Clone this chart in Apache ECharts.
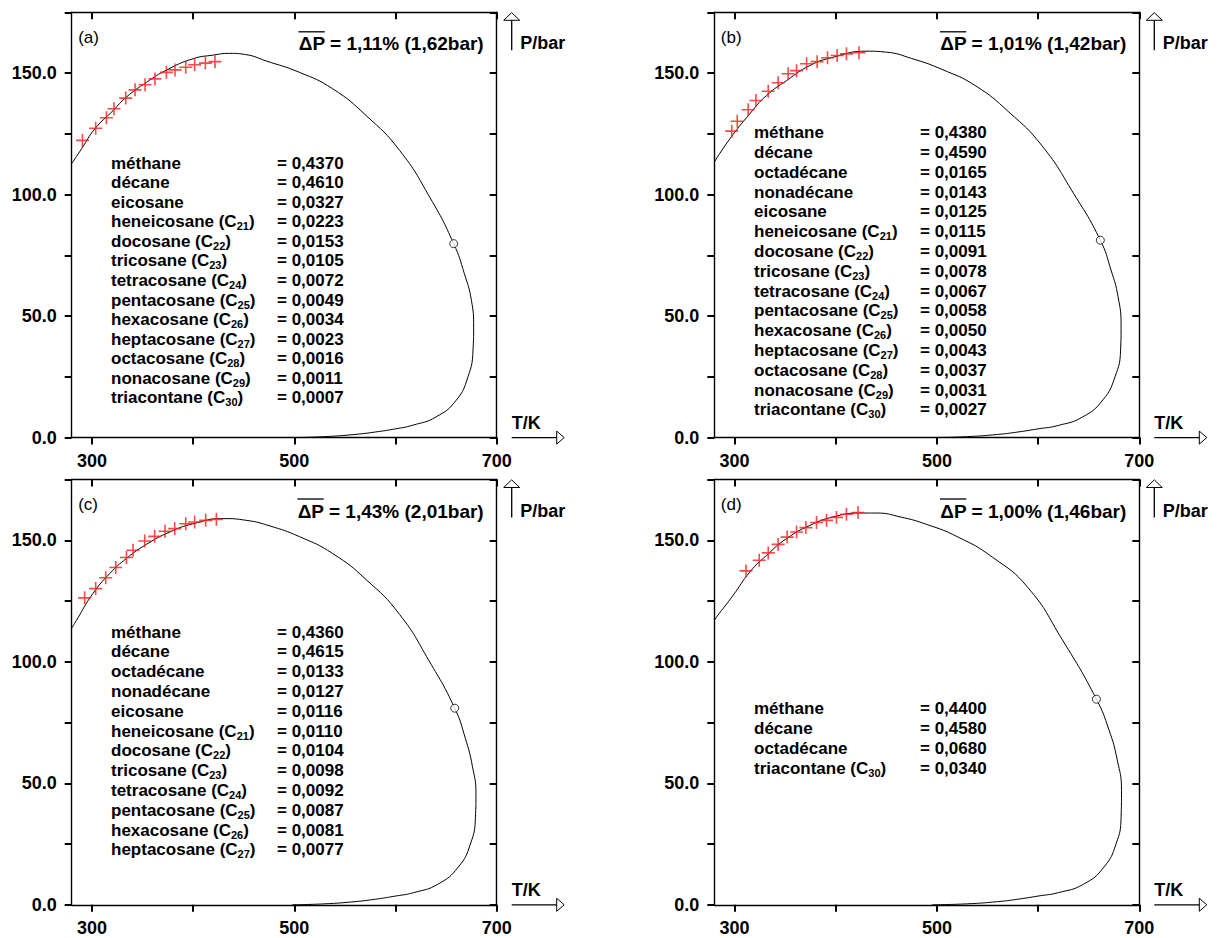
<!DOCTYPE html>
<html><head><meta charset="utf-8">
<script src="https://cdn.jsdelivr.net/npm/echarts@6/dist/echarts.min.js"></script>
<style>html,body{margin:0;padding:0;background:#fff}#chart{width:1218px;height:938px}</style>
</head><body><div id="chart"></div>
<script>
// ---------- data ----------
const xTicks = [300, 400, 500, 600, 700];
const xLabels = [300, 500, 700];
const yTicks = [0, 25, 50, 75, 100, 125, 150, 175];
const yLabels = [0, 50, 100, 150];
const panelTags = ['(a)', '(b)', '(c)', '(d)'];
const dpTexts = ['ΔP = 1,11% (1,62bar)', 'ΔP = 1,01% (1,42bar)', 'ΔP = 1,43% (2,01bar)', 'ΔP = 1,00% (1,46bar)'];

const namesA = ['méthane','décane','eicosane','heneicosane (C21)','docosane (C22)','tricosane (C23)','tetracosane (C24)','pentacosane (C25)','hexacosane (C26)','heptacosane (C27)','octacosane (C28)','nonacosane (C29)','triacontane (C30)'];
const valuesA = ['0,4370','0,4610','0,0327','0,0223','0,0153','0,0105','0,0072','0,0049','0,0034','0,0023','0,0016','0,0011','0,0007'];
const namesB = ['méthane','décane','octadécane','nonadécane','eicosane','heneicosane (C21)','docosane (C22)','tricosane (C23)','tetracosane (C24)','pentacosane (C25)','hexacosane (C26)','heptacosane (C27)','octacosane (C28)','nonacosane (C29)','triacontane (C30)'];
const valuesB = ['0,4380','0,4590','0,0165','0,0143','0,0125','0,0115','0,0091','0,0078','0,0067','0,0058','0,0050','0,0043','0,0037','0,0031','0,0027'];
const namesC = ['méthane','décane','octadécane','nonadécane','eicosane','heneicosane (C21)','docosane (C22)','tricosane (C23)','tetracosane (C24)','pentacosane (C25)','hexacosane (C26)','heptacosane (C27)'];
const valuesC = ['0,4360','0,4615','0,0133','0,0127','0,0116','0,0110','0,0104','0,0098','0,0092','0,0087','0,0081','0,0077'];
const namesD = ['méthane','décane','octadécane','triacontane (C30)'];
const valuesD = ['0,4400','0,4580','0,0680','0,0340'];

// phase envelopes [T/K, P/bar]
const curveA = [[280,112.7],[290,119],[303,127.1],[321,134.6],[334,140.1],[354,146.2],[374,151.3],[400,155.9],[420,157.4],[436,158.1],[452,157.6],[472,155],[505,150.3],[538,143.5],[571,132.5],[604,118.2],[634,98.8],[657.5,79.8],[668,67.5],[675,56.5],[677.2,45.5],[676.6,36],[671.6,25],[660,15.4],[640,8.5],[617,5.1],[600,3.6],[580,2.3],[560,1.3],[530,0.4],[500,0]];
const curveB = [[280,113.4],[295.5,123],[315,133.2],[331.7,140.8],[351.4,146.9],[374.4,153.1],[397.4,156.5],[430,159],[450,158.6],[475,156],[505,151.5],[538,144.8],[571,134],[604,120],[635,100.5],[661.5,81.2],[672,69],[679,58],[682,46],[681.5,36],[676,25],[664,15.5],[644,8.5],[620,5],[600,3.6],[580,2.3],[560,1.3],[530,0.4],[495,0]];
const curveC = [[280,113.8],[284.6,117],[301,128.1],[317.6,136.3],[334,142.5],[353.8,148.3],[377,153.4],[400,156.8],[429.5,158.9],[452.6,158.2],[475,156],[505,151.5],[538,144.5],[571,133.8],[604,119.5],[633,100.5],[658.5,80.9],[669,68.5],[676,57],[679.5,45.5],[679,36],[674,25],[662,15.5],[642,8.5],[618,5],[600,3.6],[580,2.3],[560,1.3],[530,0.4],[498,0]];
const curveD = [[280,117],[282.4,118.5],[298.7,127.4],[315.2,137],[331.7,143.8],[351.4,150.7],[374.4,156.1],[397.4,159.6],[423.7,161.2],[440.2,161.2],[463.8,159.6],[490,156.5],[520,151.5],[555,143],[590,130.5],[624,109],[657.6,84.6],[670,72],[678,60],[682.4,47],[682,36],[677,25],[665,15.5],[645,8.5],[620,5],[600,3.6],[580,2.3],[560,1.3],[530,0.4],[495,0]];

// experimental points
const expA = [[290.6,122.3],[303.7,127.3],[314.3,131.6],[321.8,135.3],[333.4,139.7],[342.6,143.1],[352.5,145.2],[362.3,147.6],[373.6,150.3],[382.1,151.3],[392.7,152.4],[401.5,153.4],[412.1,154.1],[421.6,154.7]];
const expB = [[297.2,126.1],[302.7,130.2],[313.5,134.9],[321.1,138.7],[333.3,142.5],[343.1,146.0],[353,149.7],[361.3,151],[371.2,153.8],[381.6,154.7],[391.9,156.3],[401.4,157.2],[410.6,157.9],[423,158.4]];
const expC = [[292.8,126.3],[303.7,130.1],[313.6,134.6],[323.5,138.8],[334.1,142.9],[340.6,145.9],[352.2,149.7],[362,151.6],[372.2,153.7],[381.8,154.8],[392.7,156.8],[401.5,157.5],[412.4,158.2],[423,158.6]];
const expD = [[311.3,137.4],[324.4,141.8],[333.3,144.8],[343.1,148.3],[352,151.3],[361.3,153.4],[370.5,155.2],[381,157.3],[390.9,158.2],[400.8,159.4],[410.6,160.7],[422,161.4]];

// critical points
const critA = [[657.5,79.8]];
const critB = [[661.5,81.2]];
const critC = [[658.5,80.9]];
const critD = [[657.6,84.6]];

// ---------- layout ----------
const FONT = '"Liberation Sans", Arial, Helvetica, sans-serif';
const DP_FONT = 'bold 19px ' + FONT;
const PLUS = 'path://M-0.8,-6.5L0.8,-6.5L0.8,-0.8L6.5,-0.8L6.5,0.8L0.8,0.8L0.8,6.5L-0.8,6.5L-0.8,0.8L-6.5,0.8L-6.5,-0.8L-0.8,-0.8Z';
const panels = [
  {left: 71.7, top: 12.3, names: namesA, values: valuesA, curve: curveA, exp: expA, crit: critA, lx: 111, ly: 163, lh: 19.58},
  {left: 714.3, top: 12.3, names: namesB, values: valuesB, curve: curveB, exp: expB, crit: critB, lx: 754, ly: 132.7, lh: 19.8},
  {left: 71.7, top: 479.5, names: namesC, values: valuesC, curve: curveC, exp: expC, crit: critC, lx: 111, ly: 632, lh: 19.8},
  {left: 714.3, top: 479.5, names: namesD, values: valuesD, curve: curveD, exp: expD, crit: critD, lx: 754, ly: 708, lh: 20}
];
const W = 425, H = 425.3;

const mctx = document.createElement('canvas').getContext('2d');
function measure(t, font) { mctx.font = font; return mctx.measureText(t).width; }

const grid = [], xAxis = [], yAxis = [], series = [], graphic = [];
const axisLine = {show: true, onZero: false, lineStyle: {color: '#000', width: 1.4}};
panels.forEach((p, i) => {
  grid.push({left: p.left, top: p.top, width: W, height: H, containLabel: false});
  xAxis.push({type: 'value', gridIndex: i, position: 'bottom', min: 280, max: 700,
    axisLine, splitLine: {show: false},
    axisTick: {show: true, inside: false, length: 7, customValues: xTicks, lineStyle: {color: '#000', width: 2}},
    axisLabel: {show: true, customValues: xLabels, margin: 14, color: '#000', fontSize: 18, fontWeight: 'bold', fontFamily: FONT}});
  xAxis.push({type: 'value', gridIndex: i, position: 'top', min: 280, max: 700,
    axisLine, splitLine: {show: false},
    axisTick: {show: true, inside: true, length: 7, customValues: xTicks, lineStyle: {color: '#000', width: 2}},
    axisLabel: {show: false}});
  yAxis.push({type: 'value', gridIndex: i, position: 'left', min: 0, max: 175,
    axisLine, splitLine: {show: false},
    axisTick: {show: true, inside: false, length: 7, customValues: yTicks, lineStyle: {color: '#000', width: 2}},
    axisLabel: {show: true, customValues: yLabels, margin: 15, color: '#000', fontSize: 18, fontWeight: 'bold', fontFamily: FONT,
      formatter: v => Number(v).toFixed(1)}});
  yAxis.push({type: 'value', gridIndex: i, position: 'right', min: 0, max: 175,
    axisLine, splitLine: {show: false},
    axisTick: {show: true, inside: true, length: 7, customValues: yTicks, lineStyle: {color: '#000', width: 2}},
    axisLabel: {show: false}});

  series.push({type: 'line', xAxisIndex: 2 * i, yAxisIndex: 2 * i, data: p.curve, showSymbol: false, smooth: 0.5,
    lineStyle: {color: '#000', width: 1}, silent: true, z: 2});
  series.push({type: 'scatter', xAxisIndex: 2 * i, yAxisIndex: 2 * i, data: p.exp, symbol: PLUS, symbolSize: 13,
    itemStyle: {color: '#ff1a1a'}, silent: true, z: 3});
  series.push({type: 'scatter', xAxisIndex: 2 * i, yAxisIndex: 2 * i, data: p.crit, symbol: 'circle', symbolSize: 8,
    itemStyle: {color: '#fff', borderColor: '#000', borderWidth: 1}, silent: true, z: 4});

  const R = p.left + W, B = p.top + H;
  // panel tag
  graphic.push({type: 'text', x: p.left + 6.5, y: p.top + 25, style: {text: panelTags[i], fill: '#000',
    font: '17px ' + FONT, textAlign: 'left', textVerticalAlign: 'middle', align: 'left', verticalAlign: 'middle'}});
  // mean deviation text (right aligned) with overline on ΔP
  const dpRight = R - 13;
  const dpStart = dpRight - measure(dpTexts[i], DP_FONT);
  const dpW = measure('ΔP', DP_FONT);
  graphic.push({type: 'text', x: dpRight, y: p.top + 31.5, style: {text: dpTexts[i], fill: '#000',
    font: DP_FONT, textAlign: 'right', textVerticalAlign: 'middle', align: 'right', verticalAlign: 'middle'}});
  graphic.push({type: 'line', shape: {x1: dpStart, y1: p.top + 19.5, x2: dpStart + dpW, y2: p.top + 19.5}, style: {stroke: '#000', lineWidth: 1.3}});
  // P/bar arrow
  const ax = R + 15;
  graphic.push({type: 'polygon', shape: {points: [[ax, p.top + 0.4], [ax - 8, p.top + 8], [ax + 8, p.top + 8]]}, style: {fill: '#fff', stroke: '#000', lineWidth: 1}});
  graphic.push({type: 'line', shape: {x1: ax, y1: p.top + 8, x2: ax, y2: p.top + 38}, style: {stroke: '#000', lineWidth: 1.3}});
  graphic.push({type: 'text', x: ax + 8.5, y: p.top + 31, style: {text: 'P/bar', fill: '#000',
    font: 'bold 18px ' + FONT, textAlign: 'left', textVerticalAlign: 'middle', align: 'left', verticalAlign: 'middle'}});
  // T/K arrow
  graphic.push({type: 'line', shape: {x1: R + 15, y1: B, x2: R + 60, y2: B}, style: {stroke: '#000', lineWidth: 1.3}});
  graphic.push({type: 'polygon', shape: {points: [[R + 67.5, B], [R + 60, B - 6.5], [R + 60, B + 6.5]]}, style: {fill: '#fff', stroke: '#000', lineWidth: 1}});
  graphic.push({type: 'text', x: R + 15, y: B - 15, style: {text: 'T/K', fill: '#000',
    font: 'bold 18px ' + FONT, textAlign: 'left', textVerticalAlign: 'middle', align: 'left', verticalAlign: 'middle'}});
  // composition list
  p.names.forEach((n, k) => {
    const y = p.ly + k * p.lh;
    graphic.push({type: 'text', x: p.lx, y: y, style: {
      text: n.replace(/\(C(\d+)\)/, '(C{s|$1})'), fill: '#000', font: 'bold 17px ' + FONT,
      fontSize: 17, fontWeight: 'bold', fontFamily: FONT, lineHeight: 20,
      textAlign: 'left', textVerticalAlign: 'middle', align: 'left', verticalAlign: 'middle',
      rich: {s: {fontSize: 11, fontWeight: 'bold', fontFamily: FONT, lineHeight: 10, verticalAlign: 'bottom', fill: '#000'}}}});
    graphic.push({type: 'text', x: p.lx + 166, y: y, style: {text: '= ' + p.values[k], fill: '#000',
      font: 'bold 17px ' + FONT, textAlign: 'left', textVerticalAlign: 'middle', align: 'left', verticalAlign: 'middle'}});
  });
});

const chart = echarts.init(document.getElementById('chart'), null, {renderer: 'svg'});
chart.setOption({animation: false, backgroundColor: '#fff', grid, xAxis, yAxis, series, graphic});
</script></body></html>
